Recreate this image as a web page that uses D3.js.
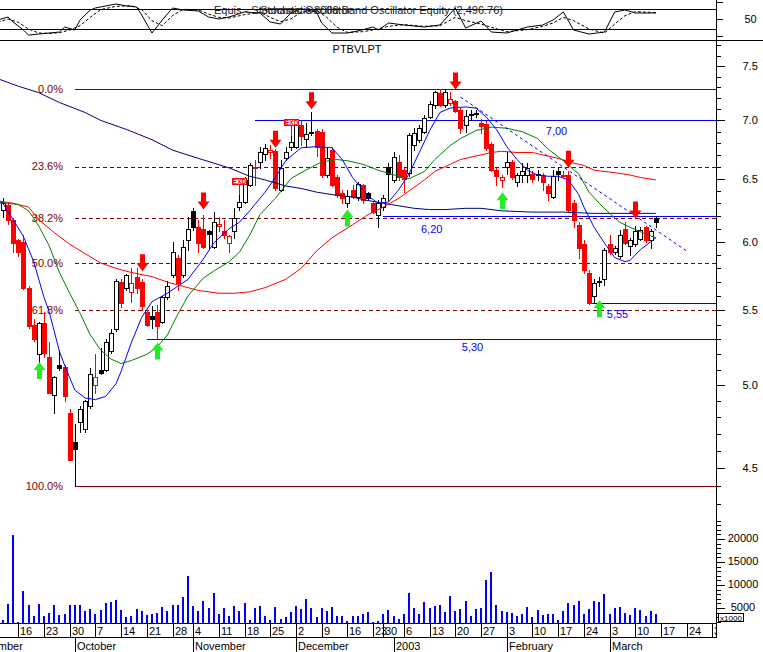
<!DOCTYPE html>
<html><head><meta charset="utf-8">
<script src="https://cdn.jsdelivr.net/npm/d3@7/dist/d3.min.js"></script>
<style>
html,body{margin:0;padding:0;background:#fff;}
svg{display:block;}
text{font-family:"Liberation Sans",Arial,Helvetica,sans-serif;font-size:11px;}
</style></head><body>
<svg id="chart" width="763" height="652"></svg>
<script>
// ---------------- DATA ----------------
const symbol = "PTBVLPT";
const originDate = "2002-09-16";          // day index 0
const holidays = ["2002-11-01","2002-12-24","2002-12-25","2002-12-26","2003-01-01"];
const firstCandle = -3;                   // day index of first candle
// [open, high, low, close]
const ohlc = [
[6.25,6.34,6.19,6.30],[6.29,6.31,6.14,6.17],[6.17,6.18,5.92,5.99],[6.01,6.02,5.89,5.92],
[6.00,6.05,5.65,5.66],[5.66,5.67,5.38,5.39],[5.40,5.44,5.29,5.30],[5.20,5.42,5.15,5.41],
[5.41,5.49,5.18,5.21],[5.18,5.28,4.95,4.95],[4.94,5.06,4.83,5.05],[5.13,5.23,5.10,5.11],
[5.12,5.13,4.90,4.93],[4.83,4.85,4.55,4.55],[4.65,4.76,4.40,4.61],[4.77,4.87,4.71,4.85],
[4.73,4.91,4.71,4.90],[4.87,5.11,4.86,5.07],[5.00,5.20,4.95,5.05],[5.10,5.24,5.07,5.08],
[5.10,5.30,5.09,5.28],[5.22,5.37,5.21,5.34],[5.37,5.72,5.36,5.71],[5.70,5.72,5.52,5.55],
[5.66,5.76,5.64,5.75],[5.63,5.80,5.56,5.69],[5.74,5.80,5.62,5.66],[5.70,5.72,5.50,5.53],
[5.49,5.50,5.39,5.40],[5.46,5.53,5.38,5.44],[5.49,5.54,5.30,5.39],[5.42,5.60,5.41,5.59],
[5.59,5.71,5.58,5.67],[5.75,6.00,5.74,5.92],[5.88,5.90,5.64,5.69],[5.75,6.01,5.74,5.96],
[6.01,6.19,5.94,6.10],[6.24,6.26,6.09,6.11],[6.11,6.17,5.92,5.99],[6.10,6.21,5.95,5.96],
[6.08,6.09,5.95,6.06],[5.96,6.23,5.95,6.15],[6.12,6.19,6.08,6.14],[6.08,6.17,6.03,6.05],
[5.99,6.05,5.92,6.04],[6.08,6.26,6.03,6.18],[6.27,6.37,6.25,6.31],[6.31,6.51,6.30,6.49],
[6.45,6.63,6.44,6.61],[6.59,6.66,6.45,6.60],[6.64,6.77,6.59,6.72],[6.71,6.79,6.66,6.76],
[6.72,6.78,6.67,6.74],[6.73,6.75,6.41,6.42],[6.41,6.66,6.40,6.59],[6.67,6.77,6.66,6.72],
[6.77,6.86,6.74,6.81],[6.77,7.00,6.76,6.98],[6.96,6.99,6.78,6.86],[6.84,6.98,6.77,6.88],
[6.90,7.07,6.87,6.89],[6.91,6.92,6.69,6.77],[6.90,6.92,6.51,6.53],[6.53,6.76,6.51,6.67],
[6.74,6.77,6.44,6.45],[6.51,6.53,6.35,6.37],[6.38,6.41,6.30,6.34],[6.30,6.41,6.27,6.36],
[6.41,6.45,6.34,6.35],[6.35,6.47,6.33,6.46],[6.45,6.46,6.30,6.33],[6.38,6.39,6.33,6.34],
[6.30,6.32,6.22,6.23],[6.21,6.33,6.11,6.30],[6.27,6.37,6.25,6.34],[6.60,6.63,6.33,6.54],
[6.49,6.72,6.47,6.68],[6.64,6.70,6.49,6.51],[6.57,6.59,6.39,6.50],[6.55,6.89,6.52,6.87],
[6.78,6.93,6.74,6.89],[6.83,6.96,6.81,6.93],[6.90,7.05,6.89,7.02],[7.03,7.17,7.02,7.15],
[7.14,7.27,7.11,7.26],[7.25,7.28,7.13,7.14],[7.14,7.28,7.12,7.26],[7.16,7.26,7.14,7.19],
[7.17,7.18,7.07,7.08],[7.09,7.11,6.89,6.93],[6.96,7.09,6.90,7.04],[7.06,7.09,7.00,7.05],
[7.065,7.09,7.03,7.06],[6.98,7.01,6.89,6.95],[6.97,6.99,6.74,6.76],[6.79,6.81,6.56,6.57],
[6.57,6.59,6.45,6.52],[6.49,6.53,6.43,6.51],[6.60,6.72,6.54,6.64],[6.64,6.66,6.50,6.51],
[6.47,6.55,6.44,6.53],[6.53,6.63,6.47,6.56],[6.53,6.63,6.47,6.59],[6.54,6.56,6.47,6.50],
[6.54,6.57,6.49,6.53],[6.53,6.55,6.41,6.47],[6.44,6.46,6.33,6.38],[6.35,6.57,6.34,6.52],
[6.56,6.60,6.49,6.54],[6.52,6.56,6.51,6.53],[6.53,6.56,6.23,6.25],[6.30,6.33,6.11,6.17],
[6.13,6.15,5.88,5.95],[5.98,6.01,5.77,5.79],[5.77,5.79,5.545,5.55],[5.60,5.72,5.56,5.69],
[5.71,5.74,5.67,5.70],[5.72,5.95,5.68,5.94],[5.98,6.05,5.91,5.92],[5.92,5.97,5.91,5.95],
[5.89,6.09,5.88,6.05],[6.10,6.15,5.98,5.99],[5.97,6.03,5.90,6.01],[5.98,6.12,5.97,6.08],
[6.02,6.11,6.01,6.09],[6.11,6.12,6.00,6.01],[6.01,6.10,5.95,6.08],[6.18,6.19,6.11,6.15]
];
// volume (x1000), same days as ohlc
const volumes = [2400,5900,20900,1900,
8700,5650,3250,5850,3250,3900,5650,3500,3700,5650,
5650,5650,4350,4800,3700,4550,6100,6300,6750,4550,
3050,3250,4800,4350,3500,3700,3900,5200,4350,5650,
5650,7400,11950,5450,4350,6500,5000,8250,3700,5000,
3250,5450,4350,6100,2400,5000,5450,3250,2400,5200,
2600,3050,4150,5450,4800,6950,5000,3050,5000,4350,
5200,3250,3250,2150,3250,3250,3700,4150,1950,2150,
3650,4550,3250,2550,3650,8300,4950,3650,6300,4950,
5450,5650,4200,7600,4300,4700,6500,3250,4700,4950,
11100,12800,5600,4350,4150,3850,3250,3650,5150,3100,
4550,3500,3700,3700,2400,4350,6000,5650,6500,3700,
4700,6500,6300,8000,3700,4950,5200,3850,3500,4950,
4500,3250,4350,3700];
// moving averages: [day index, value]
const maShort = [[-4,6.31],[-3,6.30],[-1,6.17],[1,6.04],[3,5.85],[5,5.59],[6,5.49],[8,5.22],[9,5.13],[11,4.97],[13,4.92],[15,4.91],[17,4.93],[19,5.01],[20,5.09],[22,5.28],[24,5.45],[26,5.56],[29,5.62],[31,5.67],[33,5.72],[36,5.87],[38,5.99],[41,6.10],[43,6.15],[45,6.24],[46,6.29],[48,6.39],[50,6.51],[52,6.65],[55,6.76],[58,6.77],[61,6.76],[63,6.66],[65,6.51],[68,6.36],[70,6.30],[72,6.31],[74,6.41],[76,6.54],[78,6.72],[80,6.91],[82,7.07],[84,7.11],[87,7.12],[89,7.11],[91,7.03],[93,6.92],[95,6.77],[97,6.66],[99,6.57],[101,6.53],[103,6.52],[105,6.52],[107,6.49],[109,6.37],[110,6.27],[112,6.11],[114,5.99],[116,5.88],[118,5.85],[119,5.86],[121,5.94],[123,6.00],[124,6.03]];
const maMid = [[-4,6.31],[0,6.29],[2,6.24],[4,6.12],[6,5.97],[8,5.77],[10,5.62],[12,5.48],[14,5.33],[16,5.23],[18,5.17],[20,5.14],[22,5.16],[25,5.20],[27,5.25],[29,5.33],[31,5.47],[33,5.60],[36,5.73],[38,5.78],[41,5.85],[43,5.92],[45,6.05],[47,6.21],[50,6.34],[53,6.50],[55,6.55],[59,6.64],[62,6.66],[64,6.65],[67,6.62],[70,6.57],[74,6.52],[76,6.50],[79,6.56],[81,6.66],[84,6.78],[86,6.84],[89,6.91],[92,6.94],[95,6.93],[98,6.90],[101,6.84],[103,6.75],[106,6.65],[109,6.54],[111,6.39],[113,6.30],[115,6.22],[117,6.15],[119,6.11],[122,6.06],[124,6.03]];
const maLong = [[-4,6.32],[-1,6.30],[2,6.27],[4,6.17],[7,6.07],[10,5.98],[13,5.91],[16,5.84],[19,5.80],[22,5.77],[26,5.74],[29,5.70],[32,5.67],[35,5.64],[39,5.62],[42,5.62],[45,5.63],[48,5.66],[52,5.72],[55,5.80],[58,5.93],[61,6.03],[65,6.13],[68,6.21],[71,6.27],[74,6.34],[76,6.40],[79,6.49],[81,6.56],[84,6.62],[86,6.66],[89,6.69],[92,6.72],[94,6.73],[97,6.72],[100,6.72],[102,6.70],[105,6.67],[107,6.64],[110,6.61],[112,6.57],[116,6.55],[119,6.53],[121,6.51],[124,6.49]];
const maVeryLong = [[-4,7.38],[0,7.31],[4,7.25],[8,7.16],[13,7.07],[16,7.00],[21,6.92],[26,6.83],[30,6.74],[35,6.67],[41,6.59],[45,6.52],[48,6.49],[52,6.44],[55,6.42],[58,6.39],[61,6.37],[65,6.35],[67,6.33],[71,6.30],[77,6.26],[80,6.25],[83,6.25],[87,6.26],[90,6.26],[94,6.24],[100,6.23],[106,6.23],[112,6.22],[119,6.22],[124,6.22]];
const trendLine = [[86,7.21],[130,5.93]];
// stochastic %K and %D: [day index, value]
const stochK = [[-4,47],[-2,56],[-1,41],[1,17],[2,2],[4,5],[6,8],[8,11],[9,26],[11,17],[12,47],[14,77],[15,83],[19,95],[21,89],[23,86],[24,62],[26,8],[28,47],[30,83],[32,77],[35,74],[37,56],[39,50],[41,56],[44,71],[47,68],[49,41],[51,35],[53,68],[55,80],[58,71],[59,38],[61,8],[64,8],[66,14],[69,26],[70,17],[72,38],[75,32],[79,26],[82,32],[85,83],[87,23],[90,44],[92,11],[95,8],[99,26],[102,32],[104,47],[106,71],[108,17],[111,5],[114,11],[116,71],[118,77],[120,68],[123,68],[124,68]];
const stochD = [[-4,40],[-2,50],[0,40],[2,20],[4,8],[6,7],[8,9],[10,17],[12,30],[14,55],[16,78],[19,88],[22,90],[24,78],[26,45],[28,30],[30,60],[32,79],[35,77],[37,65],[39,55],[41,53],[44,63],[47,70],[49,55],[51,42],[53,50],[55,70],[58,76],[60,55],[62,25],[64,10],[67,12],[70,20],[72,28],[75,33],[79,28],[82,30],[85,55],[87,45],[90,35],[92,25],[95,12],[99,18],[102,28],[104,38],[106,55],[108,45],[111,20],[114,8],[116,35],[118,60],[120,72],[123,70],[124,69]];
const stochLevels = [20, 80];
// Fibonacci retracement
const fibHigh = 7.28, fibLow = 4.40, fibStart = 11;
const fibRatios = [0, 0.236, 0.382, 0.5, 0.618, 1];
const fibLabels = ["0.0%","23.6%","38.2%","50.0%","61.8%","100.0%"];
// support / resistance levels
const levelValues = [7.00, 6.20, 5.30, 5.55];
const levelLabels = ["7,00","6,20","5,30","5,55"];
const levelStart = [46, 71, 25, 111];
// signals: [day index, price at arrow tip]
const sellSignals = [[24,5.78],[36,6.25],[50,6.76],[57,7.10],[85,7.28],[107,6.59],[120,6.18]];
const buySignals = [[4,5.15],[27,5.28],[64,6.25],[94,6.39],[113,5.57]];
const exDividend = [43, 53];
// axis ticks
const priceMajor = [4.5,5.0,5.5,6.0,6.5,7.0,7.5];
const priceMinor = [4.3,4.4,4.6,4.7,4.8,4.9,5.1,5.2,5.3,5.4,5.6,5.7,5.8,5.9,6.1,6.2,6.3,6.4,6.6,6.7,6.8,6.9,7.1,7.2,7.3,7.4,7.6,7.7];
const volMajor = [5000,10000,15000,20000];
const volMinor = [2000,3000,4000,6000,7000,8000,9000,11000,12000,13000,14000,16000,17000,18000,19000,21000,22000,23000,24000];

// ---------------- LAYOUT ----------------
const AX = 716, VOL_BASE = 623, DATE_MID = 637.5, BOTTOM = 652;
const RED = "#ff0000", BLUE = "#0000ff", FIB = "#800000";
const svg = d3.select("#chart");
const fmt = d3.timeFormat("%Y-%m-%d");
const allDays = d3.timeDay.range(new Date(2002,8,2), new Date(2003,3,1))
  .filter(d => d.getDay() !== 0 && d.getDay() !== 6 && !holidays.includes(fmt(d)));
const origin = allDays.findIndex(d => fmt(d) === originDate);

const x = d3.scaleLinear().domain([0, 120]).range([18.3, 635.3]);
const y = d3.scaleLog().domain([5, 7.5]).range([385.3, 66]);
const yv = d3.scaleLinear().domain([0, 20000]).range([631, 539]);
const ys = d3.scaleLinear().domain([0, 100]).range([35.7, 2.3]);

const defs = svg.append("defs");
defs.append("clipPath").attr("id","plot").append("rect").attr("x",0).attr("y",40).attr("width",AX).attr("height",VOL_BASE-40);
defs.append("clipPath").attr("id","stoch").append("rect").attr("x",0).attr("y",0).attr("width",AX).attr("height",40);
defs.append("clipPath").attr("id","dates").append("rect").attr("x",0).attr("y",VOL_BASE).attr("width",AX).attr("height",BOTTOM-VOL_BASE);

const crisp = sel => sel.attr("shape-rendering","crispEdges");

// ---- Stochastic panel ----
const gs = svg.append("g").attr("clip-path","url(#stoch)");
stochLevels.forEach(v => crisp(gs.append("line").attr("x1",0).attr("x2",AX)
  .attr("y1",Math.round(ys(v))+0.5).attr("y2",Math.round(ys(v))+0.5).attr("stroke","#000")));
const sLine = d3.line().x(d => x(d[0])).y(d => ys(d[1]));
gs.append("path").attr("d",sLine(stochD)).attr("fill","none").attr("stroke","#000").attr("stroke-dasharray","3,2");
gs.append("path").attr("d",sLine(stochK)).attr("fill","none").attr("stroke","#000");
svg.append("text").attr("x",214).attr("y",10).attr("dy",".35em").attr("fill","#222").text("Equis - Stochastic Oscillator");
svg.append("text").attr("x",503).attr("y",10).attr("dy",".35em").attr("text-anchor","end").attr("fill","#222").text("Stochastic 2000 Band Oscillator Equity (2,496.76)");
crisp(svg.append("line").attr("x1",0).attr("x2",763).attr("y1",40.5).attr("y2",40.5).attr("stroke","#000"));

// ---- title ----
svg.append("text").attr("x",357).attr("y",49).attr("dy",".35em").attr("text-anchor","middle").text(symbol);

// ---- Fibonacci ----
const fibG = svg.append("g");
fibRatios.forEach((r,k) => {
  const p = fibHigh - r*(fibHigh - fibLow);
  const yy = Math.round(y(p)) + 0.5;
  crisp(fibG.append("line").attr("x1",x(fibStart)).attr("x2",AX).attr("y1",yy).attr("y2",yy)
    .attr("stroke",FIB).attr("stroke-dasharray",(r===0||r===1)?null:"4,3"));
  fibG.append("text").attr("x",63).attr("y",y(p)).attr("dy",".35em").attr("text-anchor","end")
    .attr("fill",FIB).text(fibLabels[k]);
});

// ---- support/resistance ----
const labelPos = [[556.5,11],[431.7,13.5],[472.5,8],[617.5,11]];
levelValues.forEach((v,k) => {
  const yy = Math.round(y(v)) + 0.5;
  crisp(svg.append("line").attr("x1",x(levelStart[k])).attr("x2",AX).attr("y1",yy).attr("y2",yy).attr("stroke",BLUE));
  svg.append("text").attr("x",labelPos[k][0]).attr("y",y(v)+labelPos[k][1]).attr("dy",".35em")
    .attr("text-anchor","middle").attr("fill",BLUE).text(levelLabels[k]);
});

// ---- candles ----
const plot = svg.append("g").attr("clip-path","url(#plot)");
const candles = ohlc.map((d,k) => ({i:firstCandle+k, o:d[0], h:d[1], l:d[2], c:d[3], prev:k>0?ohlc[k-1][3]:null}));
const cg = plot.append("g");
candles.forEach(d => {
  const col = (d.prev !== null && d.c < d.prev) ? RED : "#000";
  const filled = d.c < d.o;
  const cx = Math.round(x(d.i));
  crisp(cg.append("line").attr("x1",cx+0.5).attr("x2",cx+0.5).attr("y1",Math.round(y(d.h))).attr("y2",Math.round(y(d.l))+1).attr("stroke",col));
  const top = Math.round(y(Math.max(d.o,d.c))), bot = Math.round(y(Math.min(d.o,d.c)));
  crisp(cg.append("rect").attr("x",cx-1.5).attr("y",top+0.5).attr("width",4).attr("height",Math.max(bot-top,1))
    .attr("fill",filled?col:"#fff").attr("stroke",col));
});

// ---- moving averages ----
const mLine = d3.line().x(d => x(d[0])).y(d => y(d[1]));
[[maVeryLong,"#000080"],[maLong,RED],[maMid,"#008000"],[maShort,BLUE]].forEach(([s,c]) =>
  plot.append("path").attr("d",mLine(s)).attr("fill","none").attr("stroke",c).attr("stroke-width",1));
plot.append("path").attr("d",mLine(trendLine)).attr("fill","none").attr("stroke",BLUE).attr("stroke-dasharray","3,3");

// ---- signals ----
const down = (cx,t) => `M${cx-2.5},${t-17}h5v9h3.5L${cx},${t}L${cx-6},${t-8}h3.5Z`;
const up = (cx,t) => `M${cx-2.5},${t+17}h5v-9h3.5L${cx},${t}L${cx-6},${t+8}h3.5Z`;
sellSignals.forEach(d => plot.append("path").attr("d",down(Math.round(x(d[0]))+0.5,y(d[1]))).attr("fill",RED));
buySignals.forEach(d => plot.append("path").attr("d",up(Math.round(x(d[0]))+0.5,y(d[1]))).attr("fill","#22ee22"));
exDividend.forEach(i => {
  const c = candles.find(d => d.i === i);
  const cx = Math.round(x(i)), hy = Math.round(y(c.h));
  crisp(plot.append("line").attr("x1",cx+0.5).attr("x2",cx+0.5).attr("y1",hy-10).attr("y2",hy).attr("stroke",RED));
  crisp(plot.append("rect").attr("x",cx-6.5).attr("y",hy-16.5).attr("width",14).attr("height",6).attr("fill","#fff").attr("stroke",RED));
  plot.append("text").attr("x",cx+0.5).attr("y",hy-11).attr("text-anchor","middle").attr("fill",RED)
    .style("font-size","6.5px").style("font-weight","bold").text("EXD");
});

// ---- volume ----
volumes.forEach((v,k) => {
  const cx = Math.round(x(firstCandle+k));
  crisp(plot.append("rect").attr("x",cx-1).attr("y",yv(v)).attr("width",2).attr("height",VOL_BASE-yv(v)).attr("fill",BLUE));
});

// ---- right axis ----
crisp(svg.append("line").attr("x1",AX+0.5).attr("x2",AX+0.5).attr("y1",0).attr("y2",DATE_MID).attr("stroke","#000"));
function styleAxis(g){ g.select(".domain").remove(); g.selectAll("line").attr("stroke","#000").attr("shape-rendering","crispEdges");
  g.selectAll("text").attr("fill","#000").style("font-size","11px").style("font-family","'Liberation Sans',Arial,sans-serif"); }
svg.append("g").attr("transform",`translate(${AX+0.5},0)`)
  .call(d3.axisRight(y).tickValues(priceMinor).tickSize(4).tickFormat("")).call(styleAxis);
svg.append("g").attr("transform",`translate(${AX+0.5},0)`)
  .call(d3.axisRight(y).tickValues(priceMajor).tickSize(8).tickPadding(18).tickFormat(d3.format(".1f"))).call(styleAxis);
svg.append("g").attr("transform",`translate(${AX+0.5},0)`)
  .call(d3.axisRight(yv).tickValues(volMinor).tickSize(4).tickFormat("")).call(styleAxis);
const va = svg.append("g").attr("transform",`translate(${AX+0.5},0)`)
  .call(d3.axisRight(yv).tickValues(volMajor).tickSize(8).tickFormat(d3.format("d"))).call(styleAxis);
va.selectAll("text").attr("text-anchor","middle").attr("x",26.5).attr("dy","0.2em");
const sa = svg.append("g").attr("transform",`translate(${AX+0.5},0)`)
  .call(d3.axisRight(ys).tickValues([0,50,100]).tickSize(6).tickFormat(d => d===50?"50":"")).call(styleAxis);
sa.selectAll("text").attr("text-anchor","middle").attr("x",34);
crisp(svg.append("rect").attr("x",718.5).attr("y",613.5).attr("width",25).attr("height",8).attr("fill","#fff").attr("stroke","#000"));
svg.append("text").attr("x",731).attr("y",620.5).attr("text-anchor","middle").style("font-size","8px").text("x1000");

// ---- date axis ----
const dg = svg.append("g").attr("clip-path","url(#dates)");
crisp(dg.append("line").attr("x1",0).attr("x2",AX).attr("y1",VOL_BASE+0.5).attr("y2",VOL_BASE+0.5).attr("stroke","#000"));
crisp(dg.append("line").attr("x1",0).attr("x2",AX).attr("y1",DATE_MID).attr("y2",DATE_MID).attr("stroke","#000"));
const dayObjs = allDays.map((d,k) => ({d, i:k-origin}));
const weeks = dayObjs.filter((o,k) => k===0 || +d3.timeMonday.floor(o.d) !== +d3.timeMonday.floor(allDays[k-1]));
const months = dayObjs.filter((o,k) => k===0 || o.d.getMonth() !== allDays[k-1].getMonth());
weeks.forEach(o => {
  const xx = Math.round(x(o.i)) + 0.5;
  crisp(dg.append("line").attr("x1",xx).attr("x2",xx).attr("y1",VOL_BASE).attr("y2",DATE_MID).attr("stroke","#000"));
  if (xx > 0) dg.append("text").attr("x",xx+1.5).attr("y",631).attr("dy",".35em").text(o.d.getDate());
});
const monthName = d3.timeFormat("%B");
months.forEach(o => {
  const xx = Math.round(x(o.i)) + 0.5;
  crisp(dg.append("line").attr("x1",xx).attr("x2",xx).attr("y1",DATE_MID).attr("y2",BOTTOM).attr("stroke","#000"));
  dg.append("text").attr("x",xx+1.5).attr("y",646).attr("dy",".35em").text(o.d.getMonth()===0 ? o.d.getFullYear() : monthName(o.d));
});
</script></body></html>
